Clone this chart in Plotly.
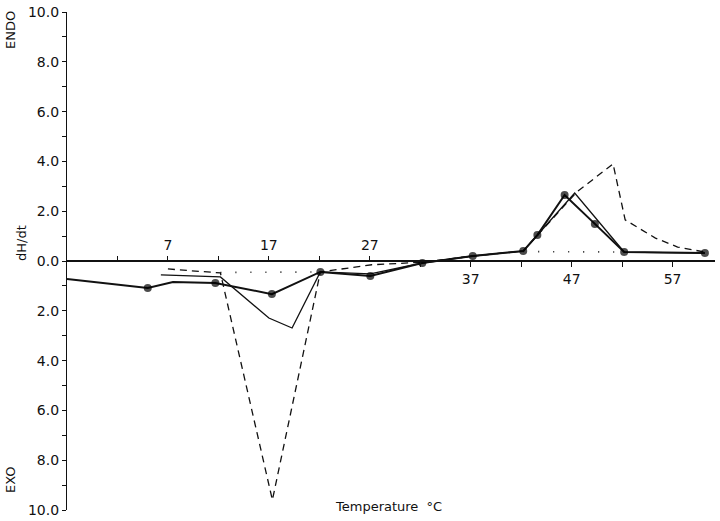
import plotly.graph_objects as go

# ---- data ----
temp_dots = [-3.0, 5.0, 7.5, 11.7, 17.3, 22.1, 27.05, 32.2, 37.2, 42.2, 43.6, 46.3, 49.3, 52.2, 60.2]
val_dots = [-0.72, -1.08, -0.84, -0.88, -1.33, -0.44, -0.60, -0.08, 0.20, 0.40, 1.04, 2.65, 1.49, 0.36, 0.32]
has_dot = [0, 1, 0, 1, 1, 1, 1, 1, 1, 1, 1, 1, 1, 1, 1]

temp_thin = [6.3, 12.2, 17.0, 19.3, 22.1, 27.05, 32.2, 37.2, 42.2, 47.3, 52.2, 60.2]
val_thin = [-0.56, -0.64, -2.29, -2.69, -0.44, -0.52, -0.08, 0.20, 0.40, 2.73, 0.36, 0.32]

temp_dash = [7.0, 12.2, 17.35, 22.1, 27.2, 32.2, 37.2, 42.2, 47.5, 51.1, 52.3, 54.0, 55.3, 57.5, 60.2]
val_dash = [-0.32, -0.48, -9.6, -0.44, -0.15, -0.05, 0.20, 0.40, 2.77, 3.90, 1.65, 1.25, 0.92, 0.56, 0.36]

temp_base = [12.2, 22.1, None, 42.2, 52.2]
val_base = [-0.46, -0.44, None, 0.38, 0.36]

top_ticks = [2, 7, 12, 17, 22, 27]
top_labels = ["", "7", "", "17", "", "27"]
bot_ticks = [32, 37, 42, 47, 52, 57]
bot_labels = ["", "37", "", "47", "", "57"]

y_ticks = list(range(-10, 11))
y_labels = [("%d.0" % abs(v)) if v % 2 == 0 else "" for v in y_ticks]

FONT = "DejaVu Sans"
INK = "#111111"

fig = go.Figure()

fig.add_trace(go.Scatter(x=temp_base, y=val_base, mode="lines",
                         line=dict(color=INK, width=1.6, dash="1px,14px"),
                         connectgaps=False, hoverinfo="skip"))
fig.add_trace(go.Scatter(x=temp_dash, y=val_dash, mode="lines",
                         line=dict(color=INK, width=1.3, dash="7px,5px")))
fig.add_trace(go.Scatter(x=temp_thin, y=val_thin, mode="lines",
                         line=dict(color=INK, width=1.3)))
fig.add_trace(go.Scatter(x=temp_dots, y=val_dots, mode="lines+markers",
                         line=dict(color=INK, width=2),
                         marker=dict(color="#000000", line=dict(width=0),
                                     size=[8 if d else 0 for d in has_dot])))

fig.update_layout(
    width=720, height=521,
    margin=dict(l=67, r=5, t=12, b=11, autoexpand=False),
    paper_bgcolor="white", plot_bgcolor="white",
    showlegend=False,
    font=dict(family=FONT, size=13, color=INK),
    xaxis=dict(range=[-3, 61.2], anchor="free", position=0.5, side="bottom", automargin=False,
               showgrid=False, zeroline=False, showline=True, linecolor=INK, linewidth=1.5,
               ticks="outside", ticklen=5, tickcolor=INK, tickwidth=1.2,
               tickvals=bot_ticks, ticktext=bot_labels, tickfont=dict(size=14)),
    xaxis2=dict(range=[-3, 61.2], overlaying="x", anchor="free", position=0.5, side="top",
                automargin=False,
                showgrid=False, zeroline=False, showline=False,
                ticks="outside", ticklen=5, tickcolor=INK, tickwidth=1.2,
                tickvals=top_ticks, ticktext=top_labels, tickfont=dict(size=14)),
    yaxis=dict(range=[-10, 10], automargin=False, showgrid=False, zeroline=False, showline=True,
               linecolor=INK, linewidth=1.2, ticks="outside", ticklen=4, tickcolor=INK,
               tickvals=y_ticks, ticktext=y_labels, tickfont=dict(size=14)),
)

# dummy trace so xaxis2 is shown
fig.add_trace(go.Scatter(x=[None], y=[None], xaxis="x2", showlegend=False))

def px_x(px):
    return (px - 67) / 648.0

def px_y(py):
    return (510 - py) / 498.0

ann = dict(xref="paper", yref="paper", showarrow=False, xanchor="center", yanchor="middle",
           font=dict(size=13))
fig.add_annotation(text="ENDO", x=px_x(10), y=px_y(30), textangle=-90, **ann)
fig.add_annotation(text="dH/dt", x=px_x(21), y=px_y(243), textangle=-90, **ann)
fig.add_annotation(text="EXO", x=px_x(10), y=px_y(480), textangle=-90, **ann)
fig.add_annotation(text="Temperature  °C", x=px_x(388), y=px_y(506), **ann)

fig.write_html("out.html", config={"displayModeBar": False},
               post_script="document.body.style.margin='0';document.body.style.overflow='hidden';")
